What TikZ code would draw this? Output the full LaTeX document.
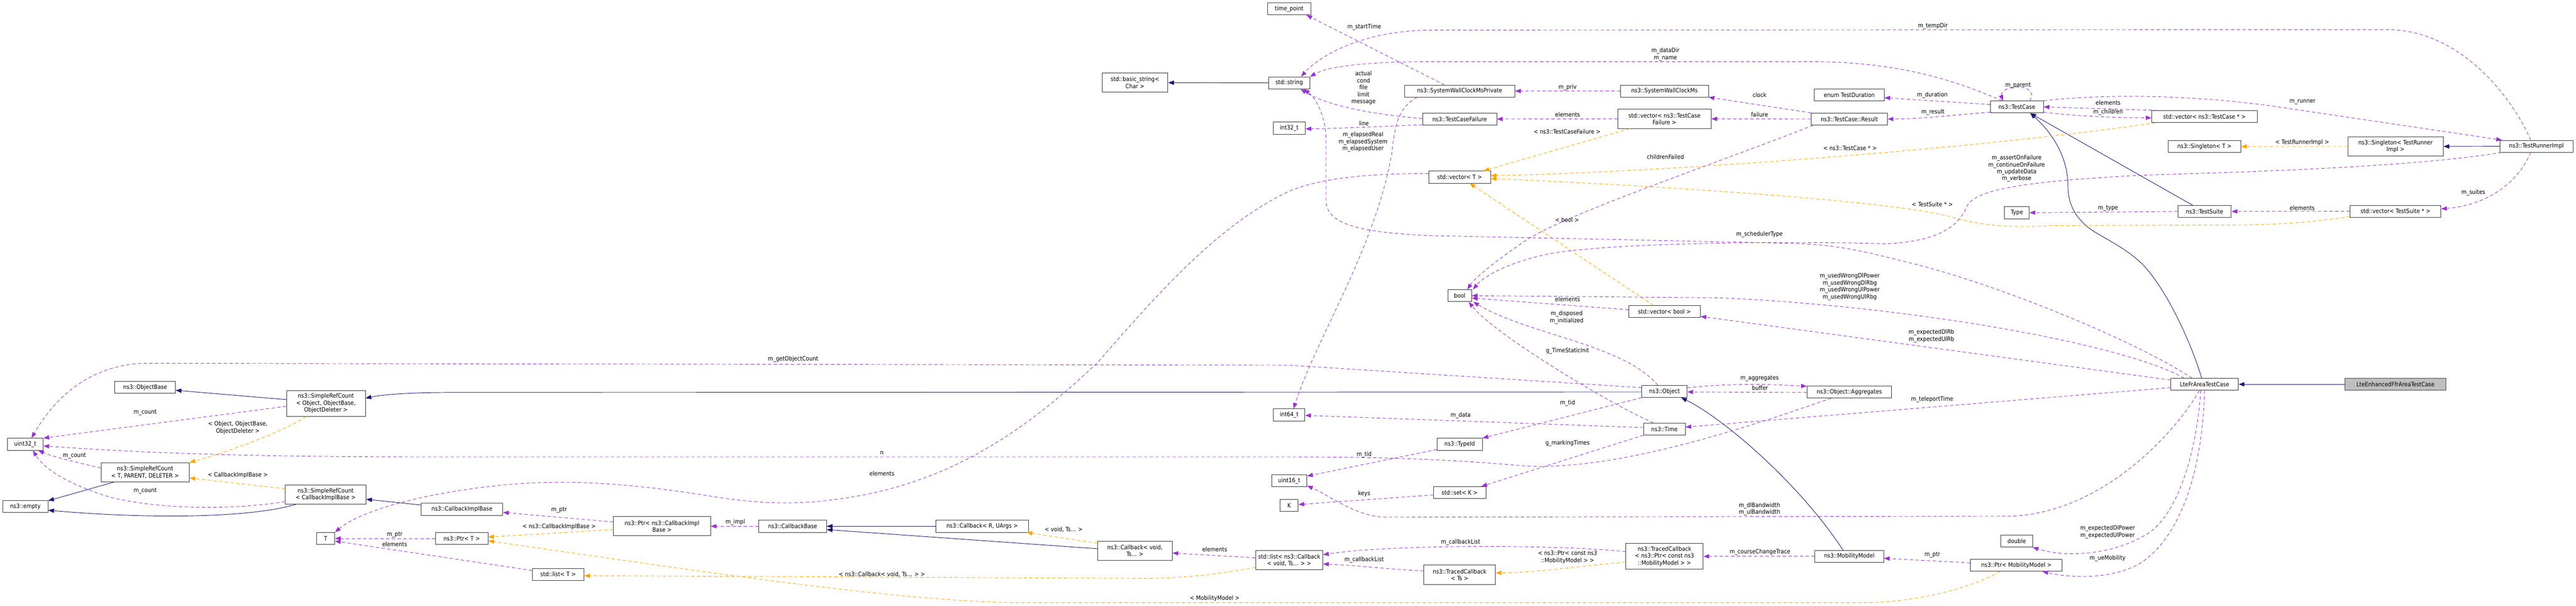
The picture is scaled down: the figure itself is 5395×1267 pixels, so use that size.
\documentclass[tikz,border=0pt]{standalone}
\usepackage{fontspec}
\newfontfamily\dgfont{DejaVu Sans Condensed}
\usetikzlibrary{calc,arrows.meta}

\definecolor{inhblue}{HTML}{191970}
\definecolor{usepurple}{HTML}{9A32CD}
\definecolor{tmplorange}{HTML}{FFA500}
\definecolor{focusgray}{HTML}{BFBFBF}

\tikzset{
  cls/.style={draw=black!80, fill=white, line width=1pt, inner sep=0pt, minimum height=25pt,
    align=center, font=\dgfont\fontsize{12.5}{14.5}\selectfont},
  twoline/.style={minimum height=40pt},
  threeline/.style={minimum height=54pt},
  lbl/.style={inner sep=0pt, align=center, font=\dgfont\fontsize{12.5}{14.5}\selectfont},
  inh/.style={draw=inhblue, line width=1pt, -{Triangle[length=12pt,width=9pt]}},
  uses/.style={draw=usepurple, line width=1pt, dash pattern=on 7pt off 5pt, -{Triangle[length=12pt,width=9pt]}},
  tmpl/.style={draw=tmplorange, line width=1pt, dash pattern=on 7pt off 5pt, -{Triangle[length=12pt,width=9pt]}}
}

\begin{document}
\begin{tikzpicture}[x=1pt,y=-1pt]
    \useasboundingbox (0,0) rectangle (5395,1267);
    \fill[white] (0,0) rectangle (5395,1267);

    % classes, column by column
    \node[cls, minimum width=75pt] (uint32) at (53,929.5) {uint32\_t};
    \node[cls, minimum width=95pt] (empty) at (53,1059.5) {ns3::empty};
    \node[cls, minimum width=127pt] (objbase) at (304,810.5) {ns3::ObjectBase};
    \node[cls, twoline, minimum width=185pt] (srct) at (304,988) {ns3::SimpleRefCount\\< T, PARENT, DELETER >};
    \node[cls, threeline, minimum width=165pt] (srcobj) at (682.5,844) {ns3::SimpleRefCount\\< Object, ObjectBase,\\ ObjectDeleter >};
    \node[cls, twoline, minimum width=169pt] (srccb) at (682,1034.5) {ns3::SimpleRefCount\\< CallbackImplBase >};
    \node[cls, minimum width=38pt] (tparam) at (682,1126.5) {T};
    \node[cls, minimum width=171pt] (cbimpl) at (967.5,1065.5) {ns3::CallbackImplBase};
    \node[cls, minimum width=110pt] (ptrt) at (967,1126.5) {ns3::Ptr< T >};
    \node[cls, minimum width=108pt] (listt) at (1169,1201.5) {std::list< T >};
    \node[cls, twoline, minimum width=203pt] (ptrcb) at (1386.5,1101) {ns3::Ptr< ns3::CallbackImpl\\Base >};
    \node[cls, minimum width=142pt] (cbbase) at (1660,1101) {ns3::CallbackBase};
    \node[cls, minimum width=195pt] (cbru) at (2057,1101) {ns3::Callback< R, UArgs >};
    \node[cls, twoline, minimum width=156pt] (cbvoid) at (2377,1152) {ns3::Callback< void,\\Ts... >};
    \node[cls, twoline, minimum width=138pt] (basicstr) at (2377,173) {std::basic\_string<\\Char >};
    \node[cls, minimum width=91pt] (timepoint) at (2700,18.4) {time\_point};
    \node[cls, minimum width=86pt] (string) at (2700,173.4) {std::string};
    \node[cls, minimum width=67pt] (int32) at (2700,268) {int32\_t};
    \node[cls, minimum width=66pt] (int64) at (2700,868) {int64\_t};
    \node[cls, minimum width=74pt] (uint16) at (2700,1006) {uint16\_t};
    \node[cls, minimum width=38pt] (kparam) at (2700,1057.5) {K};
    \node[cls, twoline, minimum width=141pt] (listcb) at (2700,1172) {std::list< ns3::Callback\\< void, Ts... > >};
    \node[cls, minimum width=231pt] (swcmp) at (3057,190.5) {ns3::SystemWallClockMsPrivate};
    \node[cls, minimum width=155pt] (tcfail) at (3057,249) {ns3::TestCaseFailure};
    \node[cls, minimum width=129pt] (vect) at (3057,370.5) {std::vector< T >};
    \node[cls, minimum width=50pt] (bool) at (3057,618.6) {bool};
    \node[cls, minimum width=95pt] (typeid) at (3057,929.5) {ns3::TypeId};
    \node[cls, minimum width=110pt] (setk) at (3057,1030.5) {std::set< K >};
    \node[cls, twoline, minimum width=150pt] (tracedts) at (3057,1202.5) {ns3::TracedCallback\\< Ts >};
    \node[cls, minimum width=184pt] (swcm) at (3486,190.5) {ns3::SystemWallClockMs};
    \node[cls, twoline, minimum width=195pt] (vecfail) at (3486,248.7) {std::vector< ns3::TestCase\\Failure >};
    \node[cls, minimum width=150pt] (vecbool) at (3486,652) {std::vector< bool >};
    \node[cls, minimum width=95pt] (object) at (3486,819) {ns3::Object};
    \node[cls, minimum width=87pt] (time) at (3486,897.5) {ns3::Time};
    \node[cls, threeline, minimum width=162pt] (tracedmob) at (3486,1164) {ns3::TracedCallback\\< ns3::Ptr< const ns3\\::MobilityModel > >};
    \node[cls, minimum width=146pt] (duration) at (3873,198.4) {enum TestDuration};
    \node[cls, minimum width=160pt] (result) at (3873,249) {ns3::TestCase::Result};
    \node[cls, minimum width=177pt] (aggr) at (3873,820) {ns3::Object::Aggregates};
    \node[cls, minimum width=144pt] (mobility) at (3873,1164) {ns3::MobilityModel};
    \node[cls, minimum width=111pt] (testcase) at (4224,223.7) {ns3::TestCase};
    \node[cls, minimum width=52pt] (type) at (4224,445) {Type};
    \node[cls, minimum width=66pt] (double) at (4223.6,1132) {double};
    \node[cls, minimum width=192pt] (ptrmob) at (4223,1182.6) {ns3::Ptr< MobilityModel >};
    \node[cls, minimum width=221pt] (vectc) at (4617,244) {std::vector< ns3::TestCase * >};
    \node[cls, minimum width=152pt] (singt) at (4617,306.5) {ns3::Singleton< T >};
    \node[cls, minimum width=112pt] (suite) at (4617,442.3) {ns3::TestSuite};
    \node[cls, minimum width=142pt] (lteffr) at (4617,804) {LteFrAreaTestCase};
    \node[cls, twoline, minimum width=200pt] (singtr) at (5017,306.4) {ns3::Singleton< TestRunner\\Impl >};
    \node[cls, minimum width=190pt] (vecsuite) at (5017,442) {std::vector< TestSuite * >};
    \node[cls, fill=focusgray, draw=black!75, minimum width=211pt] (lteenh) at (5017,804) {LteEnhancedFfrAreaTestCase};
    \node[cls, minimum width=153pt] (runner) at (5312,306) {ns3::TestRunnerImpl};

    % inheritance
    \draw[inh] ($(srcobj.west)+(0,-8)$) -- ($(objbase.east)+(0,6)$);
    \draw[inh] ($(object.west)+(0,1)$) -- (950,821) .. controls (850,821) and (800,826) .. ($(srcobj.east)+(0,-11)$);
    \draw[inh] ($(srct.south west)+(28,0)$) -- ($(empty.east)+(0,-12)$);
    \draw[inh] ($(srccb.south)+(-62,0)$) .. controls (520,1085) and (300,1085) .. ($(empty.east)+(0,8)$);
    \draw[inh] ($(cbimpl.west)+(0,-9)$) -- ($(srccb.east)+(0,10)$);
    \draw[inh] (cbru.west) -- (cbbase.east);
    \draw[inh] ($(cbvoid.west)+(0,-4)$) -- ($(cbbase.east)+(0,7)$);
    \draw[inh] (string.west) -- (basicstr.east);
    \draw[inh] ($(mobility.north)+(-13,0)$) .. controls (3760,1000) and (3600,870) .. ($(object.south)+(35,0)$);
    \draw[inh] ($(suite.north)+(-25,0)$) -- ($(testcase.south)+(28,0)$);
    \draw[inh] ($(lteffr.north)+(-6,0)$) .. controls (4590,720) and (4540,610) .. (4490,556)
        .. controls (4460,525) and (4420,505) .. (4395,490) .. controls (4350,465) and (4331,430) .. (4331,390)
        .. controls (4331,330) and (4300,280) .. ($(testcase.south)+(28,0)$);
    \draw[inh] (runner.west) -- (singtr.east);
    \draw[inh] (lteenh.west) -- (lteffr.east);

    % template instances
    \draw[tmpl] ($(srcobj.south)+(-42,0)$) .. controls (600,900) and (480,945) .. (srct.north east);
    \draw[tmpl] ($(srccb.west)+(0,-12)$) -- ($(srct.east)+(0,12)$);
    \draw[tmpl] ($(ptrcb.west)+(0,7)$) -- ($(ptrt.east)+(0,-3)$);
    \draw[tmpl] ($(listcb.west)+(0,15)$) .. controls (2560,1200) and (2480,1210) .. (2400,1210) -- ($(listt.east)+(0,3)$);
    \draw[tmpl] ($(ptrmob.south)+(-35,0)$) .. controls (4120,1235) and (4000,1261) .. (3900,1261) -- (2150,1261)
        .. controls (1900,1261) and (1500,1200) .. ($(ptrt.east)+(0,5)$);
    \draw[tmpl] ($(cbvoid.north west)+(0,5)$) -- ($(cbru.south east)+(-5,0)$);
    \draw[tmpl] ($(tracedmob.west)+(0,12)$) .. controls (3300,1185) and (3220,1198) .. ($(tracedts.east)+(0,-4)$);
    \draw[tmpl] ($(vecfail.south west)+(25,0)$) -- ($(vect.north)+(50,0)$);
    \draw[tmpl] ($(vecbool.north)+(-23,0)$) -- ($(vect.south)+(21,0)$);
    \draw[tmpl] ($(vectc.south west)+(8,0)$) .. controls (4150,310) and (3500,360) .. ($(vect.east)+(0,-3)$);
    \draw[tmpl] ($(vecsuite.west)+(0,11)$) .. controls (4800,472) and (4700,471) .. (4600,471) -- (4300,472)
        .. controls (4200,478) and (4140,470) .. (4080,452) .. controls (3950,420) and (3500,390) .. ($(vect.east)+(0,3)$);
    \draw[tmpl] (singtr.west) -- (singt.east);

    % members
    \draw[uses] ($(srcobj.west)+(0,6)$) -- (uint32.north east);
    \draw[uses] ($(srct.west)+(0,-9)$) .. controls (150,965) and (110,955) .. ($(uint32.south east)+(-11,0)$);
    \draw[uses] ($(srccb.west)+(0,15)$) .. controls (480,1068) and (330,1065) .. (230,1040)
        .. controls (150,1015) and (95,985) .. ($(uint32.south)+(16,0)$);
    \draw[uses] ($(object.west)+(0,-8)$) -- (2700,764) -- (300,760) .. controls (180,765) and (110,840) .. ($(uint32.north)+(13,0)$);
    \draw[uses] ($(aggr.south)+(-38,0)$) .. controls (3700,880) and (3400,985) .. (3200,975)
        .. controls (3100,968) and (3000,956) .. (2700,956) -- (900,956) .. controls (400,956) and (200,940) .. ($(uint32.east)+(0,3.5)$);
    \draw[uses] ($(object.east)+(0,-8)$) .. controls (3650,800) and (3720,805) .. ($(aggr.west)+(0,-12)$);
    \draw[uses] ($(aggr.west)+(0,1)$) -- ($(object.east)+(0,1)$);
    \draw[uses] ($(typeid.west)+(0,11)$) -- ($(uint16.east)+(0,-10)$);
    \draw[uses] (object.south west) -- (typeid.north east);
    \draw[uses] ($(time.west)+(0,-3)$) -- ($(int64.east)+(0,1)$);
    \draw[uses] ($(time.north)+(-23,0)$) .. controls (3380,850) and (3130,700) .. ($(bool.south)+(19,0)$);
    \draw[uses] ($(object.north)+(-14,0)$) .. controls (3400,720) and (3200,700) .. ($(bool.south east)+(3,0)$);
    \draw[uses] ($(vecbool.west)+(0,-4)$) -- ($(bool.east)+(0,5)$);
    \draw[uses] (time.south west) -- ($(setk.north east)+(-10,0)$);
    \draw[uses] ($(setk.west)+(0,5)$) -- ($(kparam.east)+(0,-2)$);
    \draw[uses] ($(tracedts.west)+(0,-8)$) .. controls (2900,1190) and (2830,1182) .. ($(listcb.east)+(0,8)$);
    \draw[uses] ($(tracedmob.west)+(0,-10)$) .. controls (3250,1138) and (2900,1140) .. ($(listcb.east)+(0,-11.5)$);
    \draw[uses] ($(listcb.west)+(0,-5)$) -- ($(cbvoid.east)+(0,5)$);
    \draw[uses] ($(listt.west)+(0,-8)$) -- ($(tparam.east)+(0,5.5)$);
    \draw[uses] (ptrt.west) -- (tparam.east);
    \draw[uses] ($(vect.west)+(0,-7.5)$) .. controls (2850,363) and (2760,375) .. (2700,400)
        .. controls (2550,470) and (2420,620) .. (2300,757) .. controls (2150,900) and (2000,1000) .. (1800,1037)
        .. controls (1700,1055) and (1620,1058) .. (1500,1040) .. controls (1350,1015) and (1200,1000) .. (1050,1015)
        .. controls (900,1030) and (760,1065) .. (tparam.north east);
    \draw[uses] ($(ptrcb.west)+(0,-9)$) -- ($(cbimpl.east)+(0,6.5)$);
    \draw[uses] (cbbase.west) -- (ptrcb.east);
    \draw[uses] (mobility.west) -- (tracedmob.east);
    \draw[uses] ($(ptrmob.west)+(0,-5)$) -- ($(mobility.east)+(0,4)$);
    \draw[uses] (lteffr.south) .. controls (4612,1000) and (4560,1130) .. (4480,1180)
        .. controls (4420,1212) and (4340,1210) .. ($(ptrmob.south east)+(-42,0)$);
    \draw[uses] ($(lteffr.south)+(-8,0)$) .. controls (4600,950) and (4560,1075) .. (4500,1115)
        .. controls (4430,1160) and (4330,1168) .. (double.south east);
    \draw[uses] ($(lteffr.south)+(-11,0)$) .. controls (4560,900) and (4400,1080) .. (4200,1080) -- (2900,1082)
        .. controls (2840,1080) and (2790,1040) .. ($(uint16.east)+(0,10)$);
    \draw[uses] ($(lteffr.west)+(0,7)$) -- ($(time.east)+(0,-4)$);
    \draw[uses] ($(lteffr.west)+(0,-9)$) -- ($(vecbool.east)+(0,10)$);
    \draw[uses] ($(lteffr.north)+(-43,0)$) .. controls (4450,720) and (4000,640) .. (3600,623) -- (bool.east);
    \draw[uses] ($(lteffr.north)+(-26,0)$) .. controls (4450,700) and (4150,585) .. (4000,550)
        .. controls (3900,525) and (3850,512) .. (3750,509) -- (3000,493) .. controls (2850,487) and (2778,470) .. (2777,420)
        -- (2777,290) .. controls (2776,240) and (2755,205) .. ($(string.south)+(31,0)$);
    \draw[uses] ($(testcase.north west)+(25,0)$) .. controls (4120,180) and (4000,130) .. (3800,129) -- (3000,129)
        .. controls (2850,129) and (2780,140) .. (string.north east);
    \draw[uses] ($(runner.north)+(-12,0)$) .. controls (5260,200) and (5150,62) .. (5000,62) -- (3000,63)
        .. controls (2850,63) and (2760,120) .. ($(string.north)+(25,0)$);
    \draw[uses] ($(tcfail.west)+(0,-1)$) .. controls (2880,240) and (2780,222) .. ($(string.south)+(24,0)$);
    \draw[uses] ($(tcfail.west)+(0,12)$) .. controls (2900,264) and (2800,269) .. ($(int32.east)+(0,1.5)$);
    \draw[uses] ($(swcmp.north)+(-32,0)$) -- ($(timepoint.south)+(36,0)$);
    \draw[uses] ($(swcmp.south west)+(27,0)$) .. controls (2930,225) and (2922,255) .. (2915,320)
        .. controls (2880,520) and (2760,700) .. ($(int64.north)+(9,0)$);
    \draw[uses] (swcm.west) -- (swcmp.east);
    \draw[uses] (result.north west) -- (swcm.south east);
    \draw[uses] (result.west) -- (vecfail.east);
    \draw[uses] ($(result.south west)+(5,0)$) .. controls (3600,340) and (3300,440) .. (3200,500)
        .. controls (3140,540) and (3090,580) .. ($(bool.north)+(16,0)$);
    \draw[uses] (vecfail.west) -- (tcfail.east);
    \draw[uses] ($(testcase.west)+(0,-5)$) -- ($(duration.east)+(0,6)$);
    \draw[uses] ($(testcase.west)+(0,11)$) .. controls (4100,240) and (4020,249) .. (result.east);
    \draw[uses] ($(testcase.north)+(27,0)$) .. controls (4265,190) and (4240,180) .. (4220,182)
        .. controls (4195,184) and (4190,198) .. ($(testcase.north)+(-29,0)$);
    \draw[uses] ($(vectc.north west)+(13,0)$) -- (testcase.east);
    \draw[uses] ($(testcase.east)+(0,11)$) .. controls (4380,246) and (4450,246) .. ($(vectc.west)+(0,2.5)$);
    \draw[uses] (testcase.north east) .. controls (4420,195) and (4600,200) .. (4760,222) -- ($(runner.north west)+(5,0)$);
    \draw[uses] ($(runner.south west)+(4,0)$) .. controls (5050,350) and (4700,360) .. (4500,366)
        .. controls (4250,378) and (4140,395) .. (4120,430) .. controls (4100,480) and (4050,505) .. (3950,510)
        .. controls (3800,505) and (3400,505) .. (3250,530) .. controls (3170,545) and (3110,575) .. ($(bool.north)+(28,0)$);
    \draw[uses] (suite.west) -- (type.east);
    \draw[uses] (vecsuite.west) -- (suite.east);
    \draw[uses] ($(runner.south)+(-12,0)$) .. controls (5270,390) and (5200,430) .. ($(vecsuite.east)+(0,-5)$);

    % edge labels
    \node[lbl] (lcnt1) at (304,863) {m\_count};
    \node[lbl] (lsrcobj) at (498,895) {< Object, ObjectBase,\\ObjectDeleter >};
    \node[lbl] (lcnt2) at (156,954) {m\_count};
    \node[lbl] (lsrccb) at (498,994) {< CallbackImplBase >};
    \node[lbl] (lcnt3) at (304,1027.5) {m\_count};
    \node[lbl] (lptr1) at (826.5,1118.6) {m\_ptr};
    \node[lbl] (lelem1) at (826.5,1138) {elements};
    \node[lbl] (lgoc) at (1661,751.5) {m\_getObjectCount};
    \node[lbl] (lptr2) at (1171,1066.7) {m\_ptr};
    \node[lbl] (lptrcb) at (1171,1102) {< ns3::CallbackImplBase >};
    \node[lbl] (limpl) at (1540,1092.6) {m\_impl};
    \node[lbl] (llistcb) at (1847,1202) {< ns3::Callback< void, Ts... > >};
    \node[lbl] (ln) at (1847,948) {n};
    \node[lbl] (lelem2) at (1847,991) {elements};
    \node[lbl] (lvoid) at (2227.6,1108) {< void, Ts... >};
    \node[lbl] (lelem3) at (2544,1149) {elements};
    \node[lbl] (lmob) at (2544,1252) {< MobilityModel >};
    \node[lbl] (lelem4) at (3283,626) {elements};
    \node[lbl] (ldisp) at (3281,664) {m\_disposed\\m\_initialized};
    \node[lbl] (lstatic) at (3283,734) {g\_TimeStaticInit};
    \node[lbl] (ltid1) at (3283,843.6) {m\_tid};
    \node[lbl] (ldata) at (3059,868.7) {m\_data};
    \node[lbl] (lmark) at (3283,927.7) {g\_markingTimes};
    \node[lbl] (ltid2) at (2857,951.5) {m\_tid};
    \node[lbl] (lkeys) at (2857,1032.5) {keys};
    \node[lbl] (lcbl1) at (3059,1134.5) {m\_callbackList};
    \node[lbl] (lcbl2) at (2857,1171) {m\_callbackList};
    \node[lbl] (ltraced) at (3283,1165.6) {< ns3::Ptr< const ns3\\::MobilityModel > >};
    \node[lbl] (lwrong) at (3874,600) {m\_usedWrongDlPower\\m\_usedWrongDlRbg\\m\_usedWrongUlPower\\m\_usedWrongUlRbg};
    \node[lbl] (lexprb) at (4045,702.7) {m\_expectedDlRb\\m\_expectedUlRb};
    \node[lbl] (laggr) at (3685,791.5) {m\_aggregates};
    \node[lbl] (lbuf) at (3686,812) {buffer};
    \node[lbl] (ltele) at (4046.6,836) {m\_teleportTime};
    \node[lbl] (lbw) at (3685,1065) {m\_dlBandwidth\\m\_ulBandwidth};
    \node[lbl] (lcourse) at (3686,1155) {m\_courseChangeTrace};
    \node[lbl] (lptr3) at (4047,1160.5) {m\_ptr};
    \node[lbl] (lpow) at (4414,1113) {m\_expectedDlPower\\m\_expectedUlPower};
    \node[lbl] (lue) at (4414,1168) {m\_ueMobility};
    \node[lbl] (lstart) at (2857,56.4) {m\_startTime};
    \node[lbl] (lactual) at (2855.6,184) {actual\\cond\\file\\limit\\message};
    \node[lbl] (lline) at (2856.6,258) {line};
    \node[lbl] (lelapsed) at (2854.6,297) {m\_elapsedReal\\m\_elapsedSystem\\m\_elapsedUser};
    \node[lbl] (ldatadir) at (3488,113.6) {m\_dataDir\\m\_name};
    \node[lbl] (lpriv) at (3283,183) {m\_priv};
    \node[lbl] (lclock) at (3685,199) {clock};
    \node[lbl] (lelem5) at (3283,240) {elements};
    \node[lbl] (lfail) at (3685,240) {failure};
    \node[lbl] (lvecfail) at (3282,275) {< ns3::TestCaseFailure >};
    \node[lbl] (lchild) at (3488,327.8) {childrenFailed};
    \node[lbl] (lvecbool) at (3282,460) {< bool >};
    \node[lbl] (lsched) at (3685,490) {m\_schedulerType};
    \node[lbl] (ltemp) at (4048,54.6) {m\_tempDir};
    \node[lbl] (ldur) at (4047,199) {m\_duration};
    \node[lbl] (lres) at (4048,234.6) {m\_result};
    \node[lbl] (lparent) at (4226.5,178.6) {m\_parent};
    \node[lbl] (lelem6) at (4415,215) {elements};
    \node[lbl] (lchildren) at (4415,234.6) {m\_children};
    \node[lbl] (lvectc) at (3874.5,310) {< ns3::TestCase * >};
    \node[lbl] (lassert) at (4223.5,352.5) {m\_assertOnFailure\\m\_continueOnFailure\\m\_updateData\\m\_verbose};
    \node[lbl] (lvecsuite) at (4047,427) {< TestSuite * >};
    \node[lbl] (ltype) at (4415,435.7) {m\_type};
    \node[lbl] (lrunner) at (4822,213) {m\_runner};
    \node[lbl] (lsingtr) at (4821.6,298) {< TestRunnerImpl >};
    \node[lbl] (lsuites) at (5180,402.5) {m\_suites};
    \node[lbl] (lelem7) at (4821.6,434.6) {elements};
\end{tikzpicture}
\end{document}
